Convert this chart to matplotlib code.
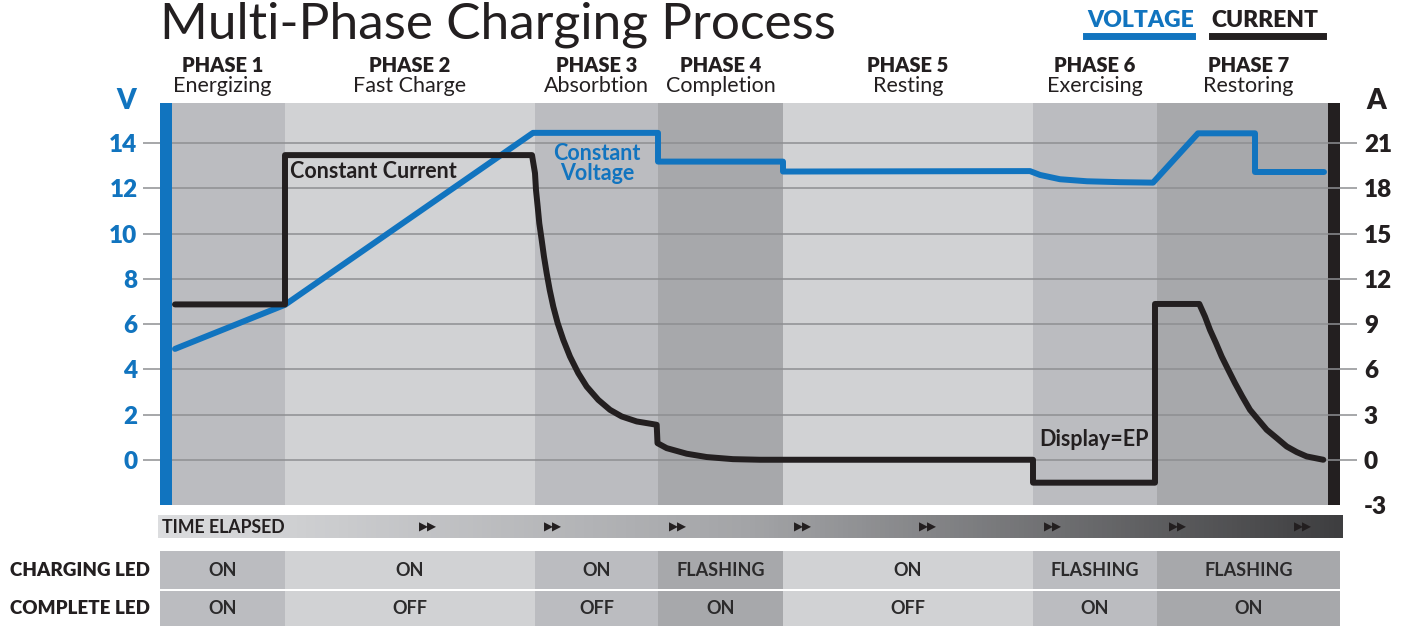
import numpy as np
import matplotlib.pyplot as plt
import matplotlib.transforms as mtransforms
from matplotlib.colors import LinearSegmentedColormap
from matplotlib.lines import Line2D

plt.rcParams['font.family'] = ['Lato', 'DejaVu Sans']

BLUE = '#1174bf'
BLACK = '#231f20'
GRID = '#8e8f92'

# phases (time axis in arbitrary units)
phase_edges = [0, 113, 363, 486, 611, 861, 985, 1156]
phase_names = ["PHASE 1", "PHASE 2", "PHASE 3", "PHASE 4", "PHASE 5", "PHASE 6", "PHASE 7"]
phase_desc = ["Energizing", "Fast Charge", "Absorbtion", "Completion", "Resting", "Exercising", "Restoring"]
phase_colors = ['#bbbcc0', '#d1d2d4', '#bbbcc0', '#a7a8ab', '#d1d2d4', '#bbbcc0', '#a7a8ab']
charging_led = ["ON", "ON", "ON", "FLASHING", "ON", "FLASHING", "FLASHING"]
complete_led = ["ON", "OFF", "OFF", "ON", "OFF", "ON", "ON"]

# voltage curve (V)
volt_t = [3, 113, 361, 486, 486, 611, 611, 858, 868, 888, 915, 948, 981, 1026, 1083, 1083, 1152]
volt_v = [4.9, 6.85, 14.45, 14.45, 13.18, 13.18, 12.74, 12.76, 12.59, 12.40, 12.31, 12.27, 12.25,
          14.43, 14.43, 12.72, 12.72]

# current curve (A)
curr_t = [3, 113, 113, 360, 363, 364, 365.7, 367.3, 369.7, 372, 374.7, 377.7, 381.3, 385.7, 391.3,
          398, 406.3, 414.7, 426.3, 438, 449.7, 464.7, 484.7, 485.5, 494.7, 514.7, 534.7, 561, 588,
          861, 861, 983, 983, 1027.3, 1033, 1038, 1044, 1049.7, 1056.3, 1063, 1070.3, 1078, 1086.3,
          1094.7, 1104.7, 1114.7, 1124.7, 1134.7, 1151.3]
curr_a = [10.3, 10.3, 20.2, 20.2, 19.0, 17.88, 16.78, 15.67, 14.57, 13.46, 12.36, 11.26, 10.15, 9.05,
          7.95, 6.84, 5.74, 4.85, 3.97, 3.31, 2.87, 2.54, 2.32, 1.1, 0.77, 0.40, 0.18, 0.04, 0.0,
          0.0, -1.52, -1.52, 10.33, 10.33, 9.49, 8.61, 7.73, 6.84, 5.96, 5.08, 4.19, 3.31, 2.65,
          1.99, 1.44, 0.88, 0.51, 0.22, 0.0]

v_ticks = [0, 2, 4, 6, 8, 10, 12, 14]
a_ticks = [-3, 0, 3, 6, 9, 12, 15, 18, 21]

XMIN, XMAX = -12, 1168

fig = plt.figure(figsize=(14.06, 6.26), dpi=100)
ax = fig.add_axes([160 / 1406, 121 / 626, 1180 / 1406, 402 / 626])
ax.set_xlim(XMIN, XMAX)
ax.set_ylim(-2, 15.77)

for i, c in enumerate(phase_colors):
    ax.axvspan(phase_edges[i], phase_edges[i + 1], color=c, lw=0, zorder=0)
ax.axvspan(XMIN, phase_edges[0], color=BLUE, lw=0, zorder=1.8)
ax.axvspan(phase_edges[-1], XMAX, color=BLACK, lw=0, zorder=1)

ax.yaxis.grid(True, color=GRID, lw=1.1)
ax.set_xticks([])
ax.set_yticks(v_ticks, labels=[str(v) for v in v_ticks], fontweight='heavy')
ax.tick_params(axis='y', length=12.2, width=1.1, color=GRID, labelcolor=BLUE, labelsize=17.5, pad=4)
for s in ax.spines.values():
    s.set_visible(False)

ax.plot(volt_t, volt_v, color=BLUE, lw=4.3, solid_capstyle='round', solid_joinstyle='round', zorder=3)

ax2 = ax.twinx()
ax2.set_ylim(-3, 23.655)
ax2.set_yticks(a_ticks, labels=[str(a) for a in a_ticks], fontweight='heavy')
ax2.tick_params(axis='y', length=12.2, width=1.1, color=GRID, labelcolor=BLACK, labelsize=17.5, pad=5)
ax2.yaxis.get_major_ticks()[0].tick2line.set_visible(False)
for s in ax2.spines.values():
    s.set_visible(False)
ax2.plot(curr_t, curr_a, color=BLACK, lw=4.3, solid_capstyle='round', solid_joinstyle='round', zorder=2)

# annotations
ax2.text(118, 19.14, "Constant Current", color=BLACK, fontsize=15.5, fontweight='bold', va='center')
ax.text(425, 13.1, "Constant\nVoltage", color=BLUE, fontsize=15.5, fontweight='bold',
        ha='center', va='center', linespacing=0.95)
ax2.text(922, 1.32, "Display=EP", color=BLACK, fontsize=15.5, fontweight='bold', ha='center', va='center')

ax.text(-0.0288, 1.005, "V", transform=ax.transAxes, color=BLUE, fontsize=20, fontweight='heavy',
        ha='center', va='center')
ax.text(1.0305, 1.005, "A", transform=ax.transAxes, color=BLACK, fontsize=20, fontweight='heavy',
        ha='center', va='center')

# phase headers
trans = mtransforms.blended_transform_factory(ax.transData, ax.transAxes)
for i in range(7):
    lo = XMIN if i == 0 else phase_edges[i]
    hi = XMAX if i == 6 else phase_edges[i + 1]
    xm = (lo + hi) / 2
    ax.text(xm, 1.077, phase_names[i], transform=trans, ha='center', va='baseline',
            fontsize=14.5, fontweight='heavy', color=BLACK)
    ax.text(xm, 1.027, phase_desc[i], transform=trans, ha='center', va='baseline',
            fontsize=15.5, color=BLACK)

# title and legend
fig.text(160 / 1406, 1 - 38 / 626, "Multi-Phase Charging Process", fontsize=37, fontweight='normal',
         color=BLACK, va='baseline', ha='left')
fig.text(1087 / 1406, 1 - 27 / 626, "VOLTAGE", fontsize=16.5, fontweight='heavy', color=BLUE, va='baseline')
fig.text(1211 / 1406, 1 - 27 / 626, "CURRENT", fontsize=16.5, fontweight='heavy', color=BLACK, va='baseline')
fig.add_artist(Line2D([1086 / 1406, 1192 / 1406], [1 - 35.5 / 626] * 2, color=BLUE, lw=5))
fig.add_artist(Line2D([1212 / 1406, 1323 / 1406], [1 - 35.5 / 626] * 2, color=BLACK, lw=5))

# bottom: time elapsed bar and LED table
axb = fig.add_axes([160 / 1406, 0, 1180 / 1406, 121 / 626])
cmap = LinearSegmentedColormap.from_list('te', ['#dcdddf', '#a3a4a7', '#3e3e40'])
axb.imshow(np.linspace(0, 1, 256).reshape(1, -1), cmap=cmap, aspect='auto',
           extent=(XMIN - 2, XMAX + 2, 33, 11), clip_on=False)
axb.set_xlim(XMIN, XMAX)
axb.set_ylim(121, 0)
axb.axis('off')

axb.text(XMIN + 2, 22.5, "TIME ELAPSED", fontsize=12.8, fontweight='bold', color=BLACK,
         ha='left', va='center')
for xa in np.arange(256, 1160, 125):
    axb.text(xa, 22.5, "\u25b6\u25b6", family='DejaVu Sans', fontsize=8.5, color=BLACK,
             ha='center', va='center')

cell_edges = [XMIN] + phase_edges[1:-1] + [XMAX]
lefts = cell_edges[:-1]
widths = np.diff(cell_edges)
rows = [(charging_led, 46, 38), (complete_led, 86, 35)]
btrans = mtransforms.blended_transform_factory(axb.transAxes, axb.transData)
for (vals, top, h), name in zip(rows, ["CHARGING LED", "COMPLETE LED"]):
    axb.bar(lefts, h, width=widths, bottom=top, align='edge', color=phase_colors, lw=0, clip_on=False)
    for l, w, v in zip(lefts, widths, vals):
        axb.text(l + w / 2, top + h / 2, v, fontsize=13, fontweight='bold', color='#2b2a2b',
                 ha='center', va='center')
    axb.text(-0.0085, top + h / 2, name, transform=btrans, fontsize=13.5, fontweight='heavy',
             color=BLACK, ha='right', va='center')

fig.savefig("out.png", dpi=100)
